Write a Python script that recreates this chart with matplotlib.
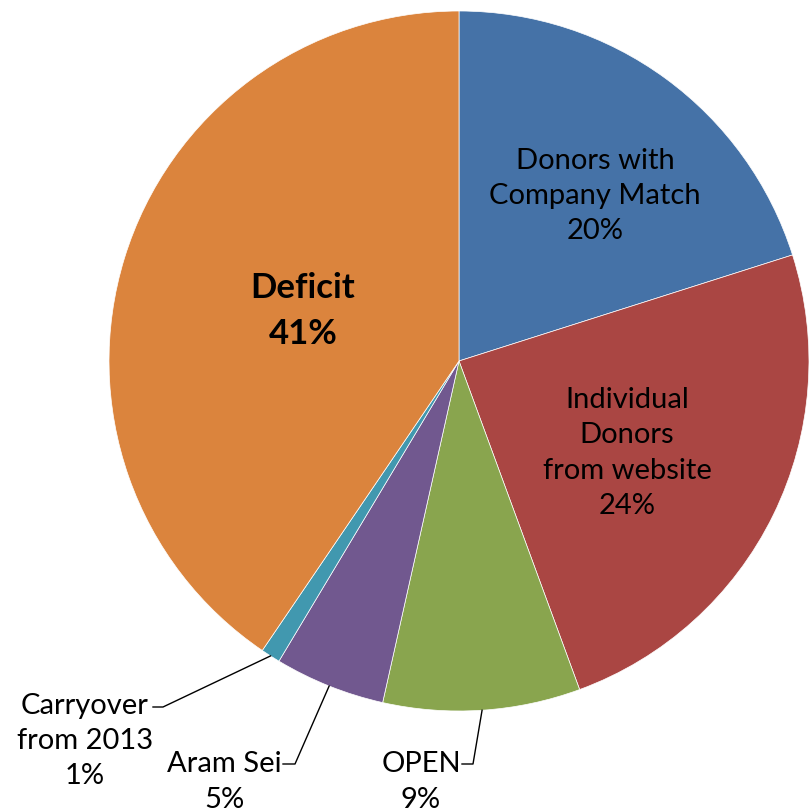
import numpy as np
import matplotlib.pyplot as plt

categories = ["Donors with\nCompany Match", "Individual\nDonors\nfrom website", "OPEN",
              "Aram Sei", "Carryover\nfrom 2013", "Deficit"]
shares = [20.1, 24.3, 9.1, 5.1, 0.9, 40.5]
pct_text = ["20%", "24%", "9%", "5%", "1%", "41%"]
colors = ["#4572A7", "#AA4643", "#89A54E", "#71588F", "#4198AF", "#DB843D"]

plt.rcParams["font.family"] = ["Lato", "DejaVu Sans"]

W, H = 809, 812
fig = plt.figure(figsize=(W / 100, H / 100), dpi=100)
ax = fig.add_axes([0, 0, 1, 1])
cx, cy, r = 459, H - 362, 350
wedges, _ = ax.pie(shares, colors=colors, startangle=90, counterclock=False,
                   center=(cx, cy), radius=r, frame=True,
                   wedgeprops=dict(edgecolor="white", linewidth=0.5))
ax.set_xlim(0, W)
ax.set_ylim(0, H)
ax.set_aspect("equal")
ax.axis("off")

fs = 21
ls = 1.45
labels = [f"{c}\n{p}" for c, p in zip(categories, pct_text)]

# inside labels
ax.text(595, H - 196, labels[0], ha="center", va="center", fontsize=fs, linespacing=ls)
ax.text(627, H - 453, labels[1], ha="center", va="center", fontsize=fs, linespacing=ls)
ax.text(303, H - 311, labels[5], ha="center", va="center",
        fontsize=25, fontweight="bold", linespacing=1.55)

# outside labels with leader lines: (text x, text y, elbow x, elbow y, end x)
outside = {2: (421, H - 782, 473, H - 765, 462),
           3: (224, H - 782, 295, H - 765, 283),
           4: (85, H - 741, 163, H - 708, 153)}
for i, (tx, ty, ex, ey, hx) in outside.items():
    w = wedges[i]
    mid = np.deg2rad((w.theta1 + w.theta2) / 2)
    px, py = cx + r * np.cos(mid), cy + r * np.sin(mid)
    ax.plot([px, ex, hx], [py, ey, ey], color="black", linewidth=1)
    ax.text(tx, ty, labels[i], ha="center", va="center", fontsize=fs, linespacing=ls)

fig.savefig("out.png", dpi=100)
